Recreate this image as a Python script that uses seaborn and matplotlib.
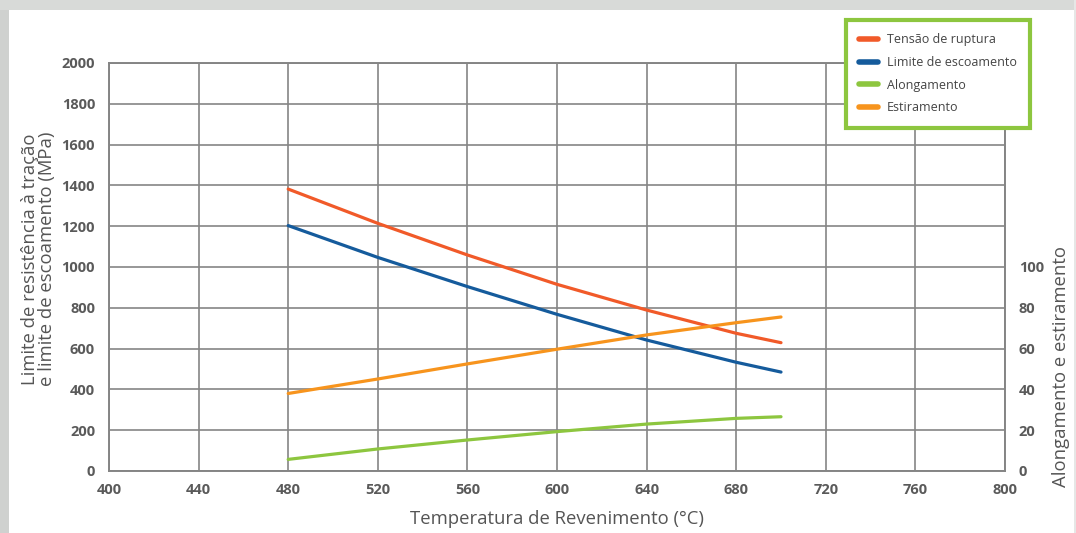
import matplotlib
matplotlib.use("Agg")
import matplotlib.pyplot as plt
from matplotlib.lines import Line2D
from matplotlib.patches import Rectangle
import pandas as pd
import seaborn as sns

# Tempering temperature (°C) and mechanical properties
temperatura = [480, 520, 560, 600, 640, 680, 700]
tensao_ruptura = [1382, 1214, 1059, 915, 789, 675, 629]        # MPa
limite_escoamento = [1203, 1047, 904, 768, 642, 533, 485]     # MPa
alongamento = [5.7, 10.8, 15.2, 19.3, 23.0, 25.8, 26.6]       # %
estiramento = [38.0, 45.1, 52.5, 59.7, 66.7, 72.7, 75.5]      # %

x_ticks = [400, 440, 480, 520, 560, 600, 640, 680, 720, 760, 800]
y_ticks = [0, 200, 400, 600, 800, 1000, 1200, 1400, 1600, 1800, 2000]
y2_ticks = [0, 20, 40, 60, 80, 100]

series_names = ["Tensão de ruptura", "Limite de escoamento", "Alongamento", "Estiramento"]
series_colors = ["#f15a29", "#155b9c", "#8dc63f", "#f7941d"]

sns.set_theme(style="white")
plt.rcParams["font.family"] = ["Open Sans", "DejaVu Sans"]

fig = plt.figure(figsize=(10.76, 5.33), dpi=100, facecolor="white")
# page frame around the white panel
fig.patches.append(Rectangle((0, 0), 9 / 1076, 1, transform=fig.transFigure,
                             facecolor="#cfd1cf", edgecolor="none", zorder=-10))
fig.patches.append(Rectangle((0, 1 - 10 / 533), 1, 10 / 533, transform=fig.transFigure,
                             facecolor="#d8dad8", edgecolor="none", zorder=-10))
fig.patches.append(Rectangle((1 - 2 / 1076, 0), 2 / 1076, 1, transform=fig.transFigure,
                             facecolor="#e6e7e6", edgecolor="none", zorder=-10))

ax = fig.add_axes([109 / 1076, 1 - 471 / 533, 896 / 1076, 408 / 533])
ax2 = ax.twinx()

df_mpa = pd.DataFrame({"T": temperatura * 2,
                       "v": tensao_ruptura + limite_escoamento,
                       "s": [series_names[0]] * len(temperatura) + [series_names[1]] * len(temperatura)})
df_pct = pd.DataFrame({"T": temperatura * 2,
                       "v": alongamento + estiramento,
                       "s": [series_names[2]] * len(temperatura) + [series_names[3]] * len(temperatura)})

sns.lineplot(data=df_mpa, x="T", y="v", hue="s", palette=series_colors[:2],
             linewidth=2.3, ax=ax, legend=False, zorder=3)
sns.lineplot(data=df_pct, x="T", y="v", hue="s", palette=series_colors[2:],
             linewidth=2.3, ax=ax2, legend=False, zorder=3)

grid_color = "#858585"
ax.set_xlim(400, 800)
ax.set_ylim(0, 2000)
ax2.set_ylim(0, 200)
ax.set_xticks(x_ticks)
ax.set_yticks(y_ticks)
ax2.set_yticks(y2_ticks)
ax.grid(True, color=grid_color, linewidth=1.2)
ax.set_axisbelow(True)

for a in (ax, ax2):
    for sp in a.spines.values():
        sp.set_color(grid_color)
        sp.set_linewidth(1.2)
    a.tick_params(length=0, labelsize=10.5, labelcolor="#5a5a5a")
    for lab in a.get_xticklabels() + a.get_yticklabels():
        lab.set_fontweight("bold")
ax.tick_params(axis="x", pad=9)
ax.tick_params(axis="y", pad=10)
ax2.tick_params(axis="y", pad=10)
ax2.grid(False)

label_style = dict(fontsize=13.3, color="#555555")
ax.set_xlabel("Temperatura de Revenimento (°C)", labelpad=9, **label_style)
ax.set_ylabel("Limite de resistência à tração\ne limite de escoamento (MPa)",
              linespacing=0.95, **label_style)
ax.yaxis.set_label_coords(-0.059, 0.52)
ax2.set_ylabel("Alongamento e estiramento", **label_style)
ax2.yaxis.set_label_coords(1.0525, 0.255)

handles = [Line2D([0], [0], color=c, linewidth=4, solid_capstyle="round") for c in series_colors]
leg = fig.legend(handles, series_names, loc="upper left",
                 bbox_to_anchor=(846 / 1076, 1 - 20 / 533), frameon=True, fancybox=False,
                 fontsize=9, handlelength=1.5, handletextpad=0.7, labelspacing=0.78,
                 borderpad=1.05, borderaxespad=0)
frame = leg.get_frame()
frame.set_edgecolor("#8dc63f")
frame.set_linewidth(3)
frame.set_facecolor("white")
frame.set_alpha(1)
for t in leg.get_texts():
    t.set_color("#444444")

fig.savefig("out.png", dpi=100, facecolor="white")
